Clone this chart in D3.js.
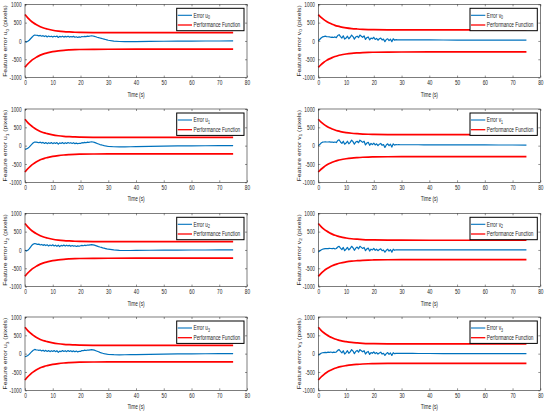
<!DOCTYPE html>
<html><head><meta charset="utf-8">
<script src="https://cdn.jsdelivr.net/npm/d3@7"></script>
<style>
body{margin:0;background:#fff}
svg{display:block}
text{font-family:"Liberation Sans",Arial,sans-serif;fill:#262626}
</style>
</head><body><svg id="c" width="550" height="413"></svg>
<script>
// ---------- data ----------
const xTicks=[0,10,20,30,40,50,60,70,80];
const yTicks=[-1000,-500,0,500,1000];
const xLabel="Time (s)";
const perfLabel="Performance Function";

const tErr=[0,0.5,1,1.5,2,2.5,3,3.5,4,4.5,5,5.5,6,6.5,7,7.5,8,8.5,9,9.5,10,10.5,11,11.5,12,12.5,13,13.5,14,14.5,15,15.5,16,16.5,17,17.5,18,18.5,19,19.5,20,20.5,21,21.5,22,22.5,23,23.5,24,24.5,25,25.5,26,26.5,27,27.5,28,28.5,29,29.5,30,32,34,36,38,40,45,50,55,60,65,70,75];

const errU0=[-20,-30,-10,20,60,100,140,160,155,150,140,150,130,145,120,140,110,135,115,130,105,130,115,135,95,125,110,130,105,125,110,130,105,120,110,125,100,115,95,110,100,120,115,125,120,130,125,135,140,135,125,115,100,90,80,70,60,50,40,30,20,-5,-15,-20,-20,-18,-12,-8,-5,-3,-2,-1,0];
const errU1=[-100,-90,-70,-40,0,40,80,100,95,90,80,95,70,90,60,85,55,80,60,85,55,80,60,85,40,75,60,85,55,80,60,85,65,80,60,80,55,70,50,65,60,80,75,90,80,95,90,100,105,100,90,75,60,45,30,20,10,0,-8,-15,-20,-30,-35,-33,-30,-25,-18,-12,-8,-5,-3,-2,-1];
const errU2=[-10,-30,-10,30,80,130,160,175,165,150,160,135,150,125,145,120,140,110,135,115,140,110,130,100,130,90,125,110,135,105,130,110,125,100,120,105,115,95,110,100,115,125,115,130,120,135,130,140,145,140,130,118,105,92,80,70,58,48,38,28,20,0,-10,-15,-15,-12,-8,-5,-3,-2,-1,0,0];
const errU3=[-80,-70,-50,-20,20,60,95,115,105,100,90,100,75,95,65,90,60,85,55,80,60,85,55,80,35,70,55,85,60,80,55,85,60,80,55,75,50,70,45,65,60,85,80,95,85,100,95,105,110,105,95,80,65,50,35,22,10,0,-8,-15,-20,-28,-32,-30,-28,-25,-18,-12,-8,-5,-3,-2,-1];
const errV0=[0,40,80,110,120,130,120,115,110,100,105,95,110,90,150,170,120,80,140,50,80,130,60,100,160,120,50,110,130,90,160,130,100,140,40,90,110,30,80,60,100,40,70,20,60,80,30,50,-20,40,60,10,50,-20,60,20,35,30,32,30,30,30,29,28,28,27,26,25,24,23,22,21,20];
const errV1=[0,30,70,95,100,105,100,100,105,95,100,90,100,85,140,160,100,60,120,40,70,120,50,90,150,110,40,100,120,80,150,120,90,120,20,70,90,10,60,30,70,20,50,0,40,60,10,30,-50,20,50,0,40,-40,50,15,30,25,27,25,25,25,24,24,23,22,21,20,20,19,18,18,17];
const errV2=[-60,-30,0,20,30,35,40,35,45,40,35,45,30,40,80,100,50,10,70,-20,20,70,0,40,100,60,-10,50,80,30,100,70,40,70,-20,30,50,-30,20,0,40,-10,20,-20,10,30,-20,0,-60,-10,20,-30,10,-60,20,-10,5,0,2,0,0,0,0,0,0,0,0,0,0,0,0,0,0];
const errV3=[-40,-20,10,25,30,35,30,40,35,45,30,40,35,45,90,110,60,20,80,-10,30,80,10,50,110,70,0,60,90,40,110,80,50,80,-10,40,60,-20,30,10,50,0,30,-10,20,40,-10,10,-50,0,30,-20,20,-50,25,0,8,5,5,5,5,5,5,4,4,4,3,3,2,2,1,1,0];

const tPerf=[0,1,2,3,4,5,6,7,8,10,12,14,16,18,20,25,30,40,75];
const perfU=[720,630,557,497,448,407,373,347,327,292,270,255,245,237,233,228,226,225,225];
const perfV01=[720,644,582,530,489,455,426,403,384,357,338,326,317,311,308,303,301,300,300];
const perfV23=[720,637,570,515,469,432,400,376,355,327,306,293,283,276,273,268,266,265,265];

const panels=[
 {row:0,col:0,sym:"u",sub:"0",err:errU0,perf:perfU},
 {row:0,col:1,sym:"v",sub:"0",err:errV0,perf:perfV01},
 {row:1,col:0,sym:"u",sub:"1",err:errU1,perf:perfU},
 {row:1,col:1,sym:"v",sub:"1",err:errV1,perf:perfV01},
 {row:2,col:0,sym:"u",sub:"2",err:errU2,perf:perfU},
 {row:2,col:1,sym:"v",sub:"2",err:errV2,perf:perfV23},
 {row:3,col:0,sym:"u",sub:"3",err:errU3,perf:perfU},
 {row:3,col:1,sym:"v",sub:"3",err:errV3,perf:perfV23}
];

// ---------- layout ----------
const colLeft=[25,318.3], rowTop=[4.3,109,213.3,317], W=222, H=73.3;
const SX=0.73, FS=6.5;
const blue="#0072BD", red="#FF0000", ink="#262626";

const svg=d3.select("#c");
svg.append("rect").attr("width",550).attr("height",413).attr("fill","#fff");

panels.forEach(p=>{
  const x0=colLeft[p.col], y0=rowTop[p.row];
  const g=svg.append("g").attr("transform",`translate(${x0},${y0})`);
  const x=d3.scaleLinear().domain([0,80]).range([0,W]);
  const y=d3.scaleLinear().domain([-1000,1000]).range([H,0]);

  // performance bounds
  const up=d3.line().x((d,i)=>x(tPerf[i])).y(d=>y(d)).curve(d3.curveMonotoneX);
  const lo=d3.line().x((d,i)=>x(tPerf[i])).y(d=>y(-d)).curve(d3.curveMonotoneX);
  g.append("path").attr("d",up(p.perf)).attr("fill","none").attr("stroke",red).attr("stroke-width",1.7);
  g.append("path").attr("d",lo(p.perf)).attr("fill","none").attr("stroke",red).attr("stroke-width",1.7);
  // error
  const el=d3.line().x((d,i)=>x(tErr[i])).y(d=>y(d));
  g.append("path").attr("d",el(p.err)).attr("fill","none").attr("stroke",blue).attr("stroke-width",1.2).attr("stroke-linejoin","round");

  // axes
  const fmt=d=>String(d);
  const bx=g.append("g").attr("transform",`translate(0,${H})`)
    .call(d3.axisBottom(x).tickValues(xTicks).tickFormat(fmt).tickSizeInner(-2).tickSizeOuter(0).tickPadding(3.2));
  const ly=g.append("g")
    .call(d3.axisLeft(y).tickValues(yTicks).tickFormat(fmt).tickSizeInner(-2).tickSizeOuter(0));
  const tx=g.append("g").call(d3.axisTop(x).tickValues(xTicks).tickFormat("").tickSizeInner(-2).tickSizeOuter(0));
  const ry=g.append("g").attr("transform",`translate(${W},0)`).call(d3.axisRight(y).tickValues(yTicks).tickFormat("").tickSizeInner(-2).tickSizeOuter(0));
  [bx,ly,tx,ry].forEach(a=>{
    a.select(".domain").remove();
    a.selectAll("line").attr("stroke",ink).attr("stroke-width",0.5);
    a.attr("font-size",FS).attr("font-family",null);
    a.selectAll("text").attr("fill",ink);
  });
  bx.selectAll("text").attr("transform",`scale(${SX},1)`);
  ly.selectAll("text").attr("x",-3.4/SX).attr("transform",`scale(${SX},1)`);
  g.append("rect").attr("width",W).attr("height",H).attr("fill","none").attr("stroke",ink).attr("stroke-width",0.6);

  // x label
  g.append("g").attr("transform",`translate(${W/2},${H+19})`)
    .append("text").attr("transform",`scale(${SX},1)`).attr("text-anchor","middle").attr("font-size",FS).text(xLabel);
  // y label
  const yt=g.append("g").attr("transform",`translate(-17.6,${H/2})`)
    .append("text").attr("transform",`scale(${SX},1) rotate(-90)`).attr("text-anchor","middle").attr("font-size",6.8);
  yt.append("tspan").text("Feature error "+p.sym);
  yt.append("tspan").attr("dy",1.6).attr("font-size",4.8).text(p.sub);
  yt.append("tspan").attr("dy",-1.6).text(" (pixels)");

  // legend
  const lx=W-70.3, lyy=4, lw=67.3, lh=22.4;
  const lg=g.append("g").attr("transform",`translate(${lx},${lyy})`);
  lg.append("rect").attr("width",lw).attr("height",lh).attr("fill","#fff").attr("stroke","#000").attr("stroke-width",1);
  lg.append("line").attr("x1",1).attr("x2",15.3).attr("y1",7).attr("y2",7).attr("stroke",blue).attr("stroke-width",1.1);
  lg.append("line").attr("x1",1).attr("x2",15.3).attr("y1",16.7).attr("y2",16.7).attr("stroke",red).attr("stroke-width",1.3);
  const t1=lg.append("g").attr("transform","translate(16.8,9.2)").append("text").attr("transform",`scale(${SX},1)`).attr("font-size",FS);
  t1.append("tspan").text("Error "+p.sym);
  t1.append("tspan").attr("dy",1.6).attr("font-size",4.8).text(p.sub);
  lg.append("g").attr("transform","translate(16.8,19)").append("text").attr("transform",`scale(${SX},1)`).attr("font-size",FS).text(perfLabel);
});
</script>
</body></html>
